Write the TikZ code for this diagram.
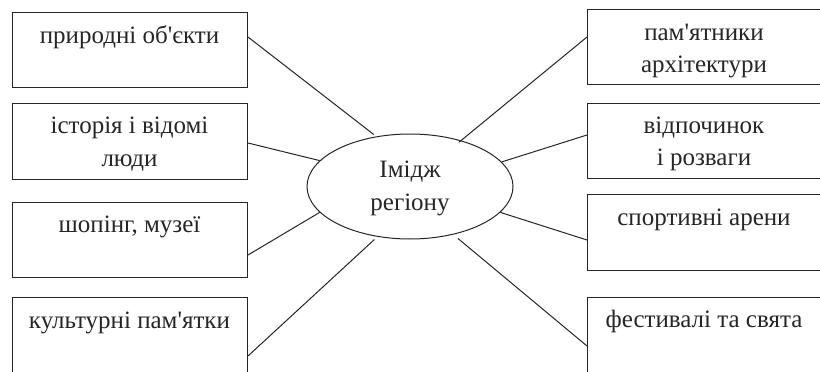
\documentclass[tikz,border=0pt]{standalone}
\usepackage{fontspec}
\setmainfont{Liberation Serif}[Ligatures=TeXOff]
\usetikzlibrary{shapes.geometric}
\begin{document}
\begin{tikzpicture}[x=1pt,y=-1pt,
  ink/.style={draw=black!85, line width=1pt},
  box/.style={ink, rectangle, inner sep=0pt, minimum width=235pt, minimum height=75pt, anchor=north west},
  lbl/.style={font=\fontsize{25}{30}\selectfont, text=black!85, inner sep=0pt, anchor=base},
  conn/.style={ink}]
\clip (0,0) rectangle (820,372);
\fill[white] (0,0) rectangle (820,372);
% left boxes
\node[box] (L1) at (12,12) {};
\node[box, minimum height=76pt] (L2) at (12,103) {};
\node[box] (L3) at (12,202) {};
\node[box, minimum height=90pt] (L4) at (12,297) {};
% right boxes
\node[box, minimum width=245pt] (R1) at (587,9) {};
\node[box, minimum width=245pt] (R2) at (587,103) {};
\node[box, minimum width=245pt, minimum height=76pt] (R3) at (587,194) {};
\node[box, minimum width=245pt, minimum height=90pt] (R4) at (587,297) {};
% ellipse
\node[ink, ellipse, minimum width=206pt, minimum height=105pt, inner sep=0pt] (E) at (410,186.5) {};
% texts
\node[lbl] (tL1) at (129.5,43) {природні об'єкти};
\node[lbl] (tL2a) at (129.5,133) {історія і відомі};
\node[lbl] (tL2b) at (129.5,166) {люди};
\node[lbl] (tL3) at (129.5,232) {шопінг, музеї};
\node[lbl] (tL4) at (129.5,328) {культурні пам'ятки};
\node[lbl] (tR1a) at (704,40) {пам'ятники};
\node[lbl] (tR1b) at (704,72) {архітектури};
\node[lbl] (tR2a) at (704,133) {відпочинок};
\node[lbl] (tR2b) at (704,165) {і розваги};
\node[lbl] (tR3) at (704,225) {спортивні арени};
\node[lbl] (tR4) at (704,327) {фестивалі та свята};
\node[lbl] (tEa) at (410,177) {Імідж};
\node[lbl] (tEb) at (410,210) {регіону};
% connectors
\draw[conn, shorten >=3pt] ([yshift=-25pt]L1.north east) -- (E.124);
\draw[conn] ([yshift=-40pt]L2.north east) -- (E.164);
\draw[conn] ([yshift=-53pt]L3.north east) -- (E.196);
\draw[conn, shorten >=4pt] ([yshift=-59pt]L4.north east) -- (E.237);
\draw[conn, shorten >=-3pt] ([yshift=-28pt]R1.north west) -- (E.42);
\draw[conn] ([yshift=-32pt]R2.north west) -- (E.15);
\draw[conn] ([yshift=-46pt]R3.north west) -- (E.344);
\draw[conn, shorten >=6pt] ([yshift=-49pt]R4.north west) -- (E.312);
\end{tikzpicture}
\end{document}
